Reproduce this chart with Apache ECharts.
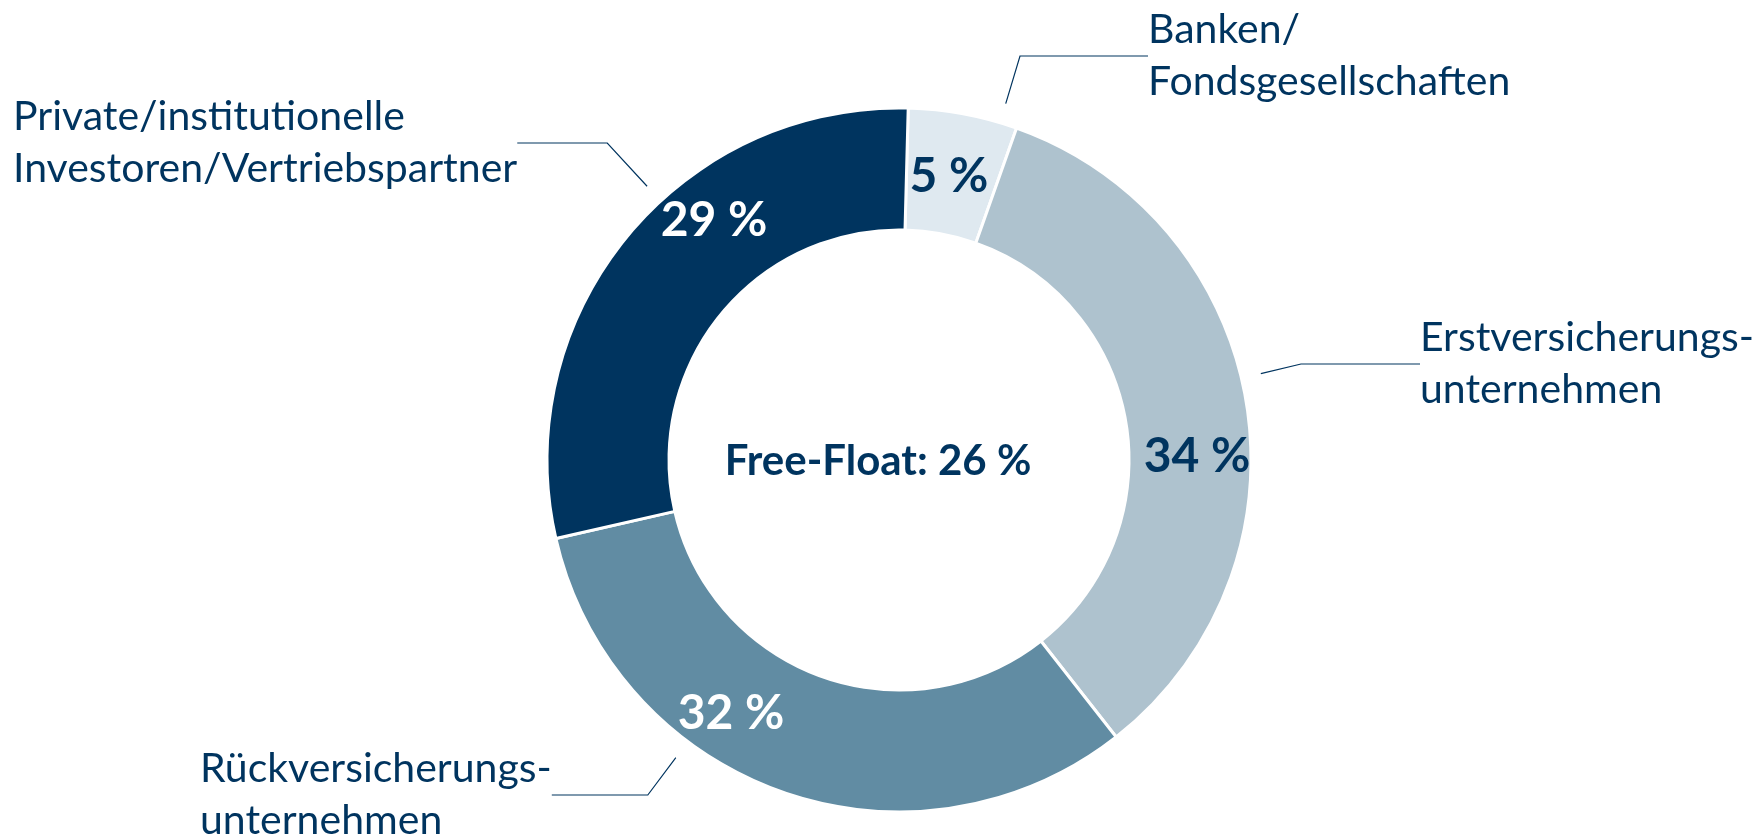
<!DOCTYPE html>
<html>
<head>
<meta charset="utf-8">
<script src="https://cdn.jsdelivr.net/npm/echarts@6/dist/echarts.min.js"></script>
<style>
  html, body { margin: 0; padding: 0; background: #fff; }
  #main { width: 1758px; height: 837px; }
</style>
</head>
<body>
<div id="main"></div>
<script>
// Aktionärsstruktur (Anteile in %)
const categories = [
  'Banken/\nFondsgesellschaften',
  'Erstversicherungs-\nunternehmen',
  'Rückversicherungs-\nunternehmen',
  'Private/institutionelle\nInvestoren/Vertriebspartner'
];
const shares = [5, 34, 32, 29];
const freeFloat = 26;

const sliceColors = ['#dfe9f0', '#aec2ce', '#618ca3', '#00345f'];
const pctColors = ['#00345f', '#00345f', '#ffffff', '#ffffff'];
const navy = '#00345f';

// label placement (px)
const pctPos = [[949, 177], [1197, 457], [731, 714], [714, 221]];
const namePos = [[1148, 56], [1420, 364], [200, 795], [13, 143]];
const lineLen2 = [128, 119, 96, 90];

const chart = echarts.init(document.getElementById('main'));

chart.setOption({
  animation: false,
  graphic: [{
    type: 'text',
    x: 878,
    y: 461,
    style: {
      text: 'Free-Float: ' + freeFloat + ' %',
      fill: navy,
      font: 'bold 42px Lato',
      align: 'center',
      verticalAlign: 'middle'
    }
  }],
  series: [
    {
      type: 'pie',
      center: [899, 460],
      radius: [230, 352],
      startAngle: 88.5,
      silent: true,
      itemStyle: { borderColor: '#fff', borderWidth: 3 },
      label: {
        show: true,
        position: 'inside',
        formatter: '{c} %',
        fontFamily: 'Lato',
        fontWeight: 'bold',
        fontSize: 48
      },
      labelLine: { show: false },
      labelLayout: function (p) {
        const xy = pctPos[p.dataIndex];
        return { x: xy[0], y: xy[1], align: 'center', verticalAlign: 'middle' };
      },
      data: shares.map((v, i) => ({
        name: categories[i],
        value: v,
        itemStyle: { color: sliceColors[i] },
        label: { color: pctColors[i] }
      }))
    },
    {
      // transparent ring that only carries the outer labels + leader lines
      type: 'pie',
      center: [899, 460],
      radius: [370, 372],
      startAngle: 88.5,
      silent: true,
      itemStyle: { color: 'rgba(0,0,0,0)' },
      label: {
        show: true,
        position: 'inside',
        formatter: '{b}',
        color: navy,
        fontFamily: 'Lato',
        fontSize: 41,
        lineHeight: 52,
        overflow: 'none'
      },
      labelLine: {
        show: true,
        lineStyle: { color: navy, width: 1.2 }
      },
      labelLayout: function (p) {
        const xy = namePos[p.dataIndex];
        return { x: xy[0], y: xy[1], align: 'left', verticalAlign: 'middle' };
      },
      data: shares.map((v, i) => ({
        name: categories[i],
        value: v,
        labelLine: { length2: lineLen2[i] }
      }))
    }
  ]
});
</script>
</body>
</html>
